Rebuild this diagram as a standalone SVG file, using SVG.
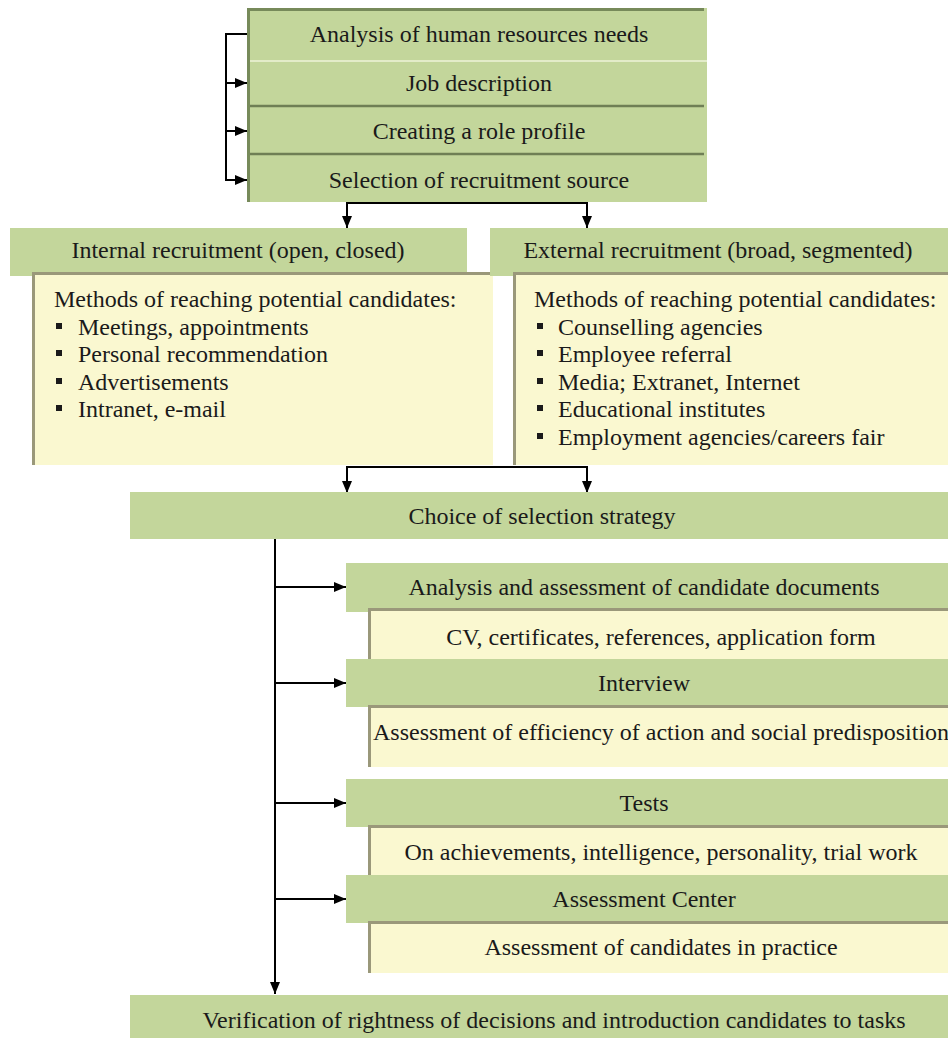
<svg xmlns="http://www.w3.org/2000/svg" width="948" height="1038" viewBox="0 0 948 1038">
<defs>
<style>
text{font-family:'Liberation Serif','Tinos','Times New Roman','DejaVu Serif',serif;font-size:24px;fill:#1a1a1a}
.c{text-anchor:middle}
.g{fill:#c3d69b}
.y{fill:#faf8d0}
.yb{stroke:#9a987a;stroke-width:3;fill:none}
.tb{stroke:#778a5a;stroke-width:3;fill:none}
.ln{stroke:#000;stroke-width:2;fill:none}
.b{fill:#1a1a1a}
</style>
<marker id="ah" markerUnits="userSpaceOnUse" markerWidth="12" markerHeight="10" refX="12" refY="5" orient="auto">
<path d="M0,0 L12,5 L0,10 z" fill="#000"/>
</marker>
</defs>
<rect width="948" height="1038" fill="#fff"/>

<g id="connectors">
<polyline class="ln" points="247,34 226,34 226,180 247,180" marker-end="url(#ah)"/>
<line class="ln" x1="226" y1="83" x2="247" y2="83" marker-end="url(#ah)"/>
<line class="ln" x1="226" y1="131" x2="247" y2="131" marker-end="url(#ah)"/>
<polyline class="ln" points="467,203 347,203 347,228" marker-end="url(#ah)"/>
<polyline class="ln" points="467,203 587,203 587,228" marker-end="url(#ah)"/>
<polyline class="ln" points="467,467 347,467 347,493" marker-end="url(#ah)"/>
<polyline class="ln" points="467,467 587,467 587,493" marker-end="url(#ah)"/>
<line class="ln" x1="275" y1="539" x2="275" y2="994" marker-end="url(#ah)"/>
<line class="ln" x1="275" y1="587" x2="346" y2="587" marker-end="url(#ah)"/>
<line class="ln" x1="275" y1="683" x2="346" y2="683" marker-end="url(#ah)"/>
<line class="ln" x1="275" y1="803" x2="346" y2="803" marker-end="url(#ah)"/>
<line class="ln" x1="275" y1="899" x2="346" y2="899" marker-end="url(#ah)"/>
</g>

<g id="top-box">
<rect class="g" x="247" y="8" width="460" height="194"/>
<line x1="250" y1="61" x2="707" y2="61" stroke="#e3ecc9" stroke-width="2"/>
<line x1="248" y1="106" x2="704" y2="106" stroke="#6f7f55" stroke-width="2.5"/>
<line x1="248" y1="154" x2="704" y2="154" stroke="#6f7f55" stroke-width="2.5"/>
<polyline class="tb" points="248.5,202 248.5,9.5 704,9.5"/>
<text class="c" x="479" y="42">Analysis of human resources needs</text>
<text class="c" x="479" y="91">Job description</text>
<text class="c" x="479" y="139">Creating a role profile</text>
<text class="c" x="479" y="188">Selection of recruitment source</text>
</g>

<g id="internal">
<rect class="g" x="10" y="228" width="457" height="48"/>
<text class="c" x="238" y="258">Internal recruitment (open, closed)</text>
<rect class="y" x="32" y="272" width="461" height="193"/>
<polyline class="yb" points="33.5,465 33.5,273.5 493,273.5"/>
<text x="54" y="307">Methods of reaching potential candidates:</text>
<rect class="b" x="56" y="323" width="6" height="6"/>
<text x="78" y="335">Meetings, appointments</text>
<rect class="b" x="56" y="350" width="6" height="6"/>
<text x="78" y="362">Personal recommendation</text>
<rect class="b" x="56" y="378" width="6" height="6"/>
<text x="78" y="390">Advertisements</text>
<rect class="b" x="56" y="405" width="6" height="6"/>
<text x="78" y="417">Intranet, e-mail</text>
</g>

<g id="external">
<rect class="g" x="490" y="228" width="458" height="48"/>
<text class="c" x="718" y="258">External recruitment (broad, segmented)</text>
<rect class="y" x="513" y="272" width="435" height="193"/>
<polyline class="yb" points="514.5,465 514.5,273.5 948,273.5"/>
<text x="534" y="307">Methods of reaching potential candidates:</text>
<rect class="b" x="537" y="323" width="6" height="6"/>
<text x="558" y="335">Counselling agencies</text>
<rect class="b" x="537" y="350" width="6" height="6"/>
<text x="558" y="362">Employee referral</text>
<rect class="b" x="537" y="378" width="6" height="6"/>
<text x="558" y="390">Media; Extranet, Internet</text>
<rect class="b" x="537" y="405" width="6" height="6"/>
<text x="558" y="417">Educational institutes</text>
<rect class="b" x="537" y="433" width="6" height="6"/>
<text x="558" y="445">Employment agencies/careers fair</text>
</g>

<g id="choice">
<rect class="g" x="130" y="492" width="818" height="47"/>
<text class="c" x="542" y="524">Choice of selection strategy</text>
</g>

<g id="documents">
<rect class="g" x="346" y="563" width="602" height="49"/>
<text class="c" x="644" y="595">Analysis and assessment of candidate documents</text>
<rect class="y" x="368" y="608" width="580" height="54"/>
<polyline class="yb" points="369.5,662 369.5,609.5 948,609.5"/>
<text class="c" x="661" y="645">CV, certificates, references, application form</text>
</g>

<g id="interview">
<rect class="g" x="346" y="659" width="602" height="48"/>
<text class="c" x="644" y="691">Interview</text>
<rect class="y" x="368" y="705" width="580" height="62"/>
<polyline class="yb" points="369.5,767 369.5,706.5 948,706.5"/>
<text x="373" y="740">Assessment of efficiency of action and social predisposition</text>
</g>

<g id="tests">
<rect class="g" x="346" y="779" width="602" height="48"/>
<text class="c" x="644" y="811">Tests</text>
<rect class="y" x="368" y="825" width="580" height="52"/>
<polyline class="yb" points="369.5,877 369.5,826.5 948,826.5"/>
<text class="c" x="661" y="860">On achievements, intelligence, personality, trial work</text>
</g>

<g id="assessment-center">
<rect class="g" x="346" y="875" width="602" height="48"/>
<text class="c" x="644" y="907">Assessment Center</text>
<rect class="y" x="368" y="921" width="580" height="52"/>
<polyline class="yb" points="369.5,973 369.5,922.5 948,922.5"/>
<text class="c" x="661" y="955">Assessment of candidates in practice</text>
</g>

<g id="verification">
<rect class="g" x="130" y="995" width="818" height="43"/>
<text class="c" x="554" y="1028">Verification of rightness of decisions and introduction candidates to tasks</text>
</g>
</svg>
